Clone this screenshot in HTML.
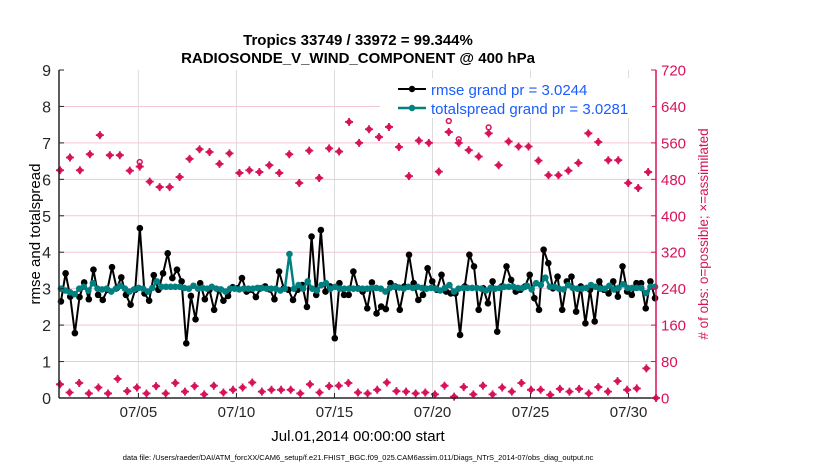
<!DOCTYPE html>
<html><head><meta charset="utf-8"><style>
body{margin:0;background:#fff;}
svg{display:block;font-family:"Liberation Sans",Arial,sans-serif;}
</style></head><body>
<svg id="chart" width="830" height="470" viewBox="0 0 830 470">
<text x="358" y="45" text-anchor="middle" font-size="15" font-weight="bold">Tropics 33749 / 33972 = 99.344%</text>
<text x="358" y="63" text-anchor="middle" font-size="15" font-weight="bold">RADIOSONDE_V_WIND_COMPONENT @ 400 hPa</text>
<g id="grid"></g>
<g id="marks"></g>
<g id="axes"></g>
<text transform="translate(40,234) rotate(-90)" text-anchor="middle" font-size="15">rmse and totalspread</text>
<text transform="translate(708,234) rotate(-90)" text-anchor="middle" font-size="13.5" fill="#d6135a"># of obs: o=possible; ×=assimilated</text>
<text x="358" y="441" text-anchor="middle" font-size="15">Jul.01,2014 00:00:00 start</text>
<text x="358" y="460" text-anchor="middle" font-size="7.5">data file: /Users/raeder/DAI/ATM_forcXX/CAM6_setup/f.e21.FHIST_BGC.f09_025.CAM6assim.011/Diags_NTrS_2014-07/obs_diag_output.nc</text>
<g>
<rect x="380" y="78" width="272" height="40" fill="#fff"/>
<line x1="398" y1="89" x2="426" y2="89" stroke="#000" stroke-width="2"/><circle cx="412" cy="89" r="3.2" fill="#000"/>
<text x="431" y="95" font-size="15" fill="#1a5cff">rmse grand pr = 3.0244</text>
<line x1="398" y1="108" x2="426" y2="108" stroke="#008080" stroke-width="2.5"/><circle cx="412" cy="108" r="3.2" fill="#008080"/>
<text x="431" y="114" font-size="15" fill="#1a5cff">totalspread grand pr = 3.0281</text>
</g>
</svg>
<script>
const rmse=[2.65,3.42,2.78,1.78,2.77,3.17,2.71,3.52,2.83,2.69,2.97,3.59,3.01,3.31,2.83,2.56,2.97,4.66,2.87,2.67,3.37,2.97,3.42,3.97,3.29,3.52,3.2,1.5,2.8,2.16,3.15,2.71,2.97,2.42,2.97,2.67,2.8,3.04,3.01,3.29,2.92,2.97,2.77,3.01,3.06,2.98,2.71,3.47,3.01,2.97,2.69,2.97,3.1,2.5,4.43,2.83,4.61,2.92,3.06,1.64,3.15,2.83,2.83,3.47,3.01,2.92,2.46,3.17,2.32,
2.51,2.44,3.15,3.06,2.42,3.06,3.93,3.15,2.69,2.83,3.56,3.2,2.97,3.38,2.92,2.87,2.87,1.73,3.06,3.93,3.61,2.42,3.01,2.6,3.2,1.82,3.06,3.61,3.24,2.92,2.97,3.06,3.38,2.74,2.42,4.07,3.7,3.01,3.33,2.42,3.2,3.33,2.37,3.06,2.05,2.97,2.1,3.2,2.97,2.87,3.2,2.78,3.61,2.92,2.83,3.15,3.15,2.46,3.2,2.74];
const spread=[3.0,2.95,2.9,2.85,3.0,3.05,2.95,3.15,3.0,2.98,3.0,2.92,3.0,3.08,3.0,2.92,2.98,3.02,3.0,2.92,3.02,3.2,3.05,3.05,3.05,3.05,3.05,3.02,3.0,3.08,3.0,3.02,3.0,3.05,3.0,2.98,2.92,3.0,3.0,2.98,3.0,3.0,3.0,3.02,3.02,3.0,3.0,3.0,2.95,3.0,3.95,3.0,3.1,3.0,3.2,3.0,2.95,3.1,3.15,3.0,3.05,3.0,3.0,3.0,3.0,3.0,3.0,3.0,3.02,
3.02,3.0,2.92,3.02,3.05,3.03,3.0,3.05,3.02,3.05,3.02,3.0,3.02,3.0,2.95,3.02,3.1,2.92,3.0,3.02,3.02,3.02,3.02,3.0,2.95,3.02,3.0,3.02,3.05,3.05,3.05,3.02,3.02,3.08,2.98,3.15,3.1,3.3,3.05,3.05,3.0,2.98,3.1,3.02,3.0,3.0,3.02,3.1,3.05,3.0,3.0,3.08,2.98,3.02,3.12,3.02,3.02,3.02,3.02,2.88,3.05,3.05];
const obsAssim=[500,528,500,535,577,533,533,499,508,475,463,463,485,525,546,540,514,537,494,500,496,511,494,535,472,543,483,548,541,606,560,590,573,595,551,487,565,560,497,584,560,544,530,581,511,563,552,552,521,489,489,499,516,581,562,522,522,472,461,496];
const obsPossible=[500,528,500,535,577,533,533,499,518,475,463,463,485,525,546,540,514,537,494,500,496,511,494,535,472,543,483,548,541,606,560,590,573,595,551,487,565,560,497,608,568,544,530,594,511,563,552,552,521,489,489,499,516,581,562,522,522,472,461,496];
const obsLow=[30,12,33,10,23,10,42,15,23,10,26,10,33,14,26,8,27,12,18,23,34,14,18,18,18,10,30,12,26,27,33,12,10,18,34,15,14,10,12,8,27,3,24,8,27,8,23,14,33,18,18,7,20,14,20,10,24,14,37,18,21,65,0];
const xTicks=[4,9,14,19,24,29];
const xTickLabels=["07/05","07/10","07/15","07/20","07/25","07/30"];
const yLeftTicks=[0,1,2,3,4,5,6,7,8,9];
const yRightTicks=[0,80,160,240,320,400,480,560,640,720];

const X0=59,X1=656,Y0=398,Y1=70,T0=-0.05,T1=30.4;
const xs=t=>X0+(t-T0)/(T1-T0)*(X1-X0);
const yl=v=>Y0-v/9*(Y0-Y1);
const yr=v=>Y0-v/720*(Y0-Y1);
const NS="http://www.w3.org/2000/svg";
function mk(tag,attrs,parent){const e=document.createElementNS(NS,tag);for(const k in attrs)e.setAttribute(k,attrs[k]);parent.appendChild(e);return e;}
const grid=document.getElementById('grid'),marks=document.getElementById('marks'),axes=document.getElementById('axes');
xTicks.forEach(t=>{const l=mk('line',{x1:xs(t),x2:xs(t),y1:Y1,y2:Y0,stroke:'#dcdcdc','stroke-width':1},grid);

});
yLeftTicks.forEach(v=>{if(v===0||v===9)return;const l=mk('line',{x1:X0,x2:X1,y1:yl(v),y2:yl(v),stroke:'#f3c6d8','stroke-width':1},grid);

});
function star(x,y,g){mk('circle',{cx:x,cy:y,r:2.8,fill:'#d6135a'},g);mk('path',{d:`M${x-4} ${y}h8M${x} ${y-4}v8`,stroke:'#d6135a','stroke-width':1.8},g);}
const gObs=mk('g',{},marks);


const topStep=30.0/(obsAssim.length-1);
obsAssim.forEach((v,i)=>{const x=xs(i*topStep);star(x,yr(v),gObs);
if(obsPossible[i]!==v){mk('circle',{cx:x,cy:yr(obsPossible[i]),r:2.4,fill:'none',stroke:'#d6135a','stroke-width':1.5},gObs);}});
const lowStep=30.4/(obsLow.length-1);
obsLow.forEach((v,i)=>{star(xs(i*lowStep),yr(v),gObs);});
const n=rmse.length;const tt=i=>0.05+i*30.3/(n-1);
const gR=mk('g',{},marks);


mk('polyline',{points:rmse.map((v,i)=>xs(tt(i))+','+yl(v)).join(' '),fill:'none',stroke:'#000','stroke-width':2},gR);
rmse.forEach((v,i)=>mk('circle',{cx:xs(tt(i)),cy:yl(v),r:3.3,fill:'#000'},gR));
const m=spread.length;const ts=i=>0.05+i*30.3/(m-1);
const gS=mk('g',{},marks);


mk('polyline',{points:spread.map((v,i)=>xs(ts(i))+','+yl(v)).join(' '),fill:'none',stroke:'#008080','stroke-width':2.5},gS);
spread.forEach((v,i)=>mk('circle',{cx:xs(ts(i)),cy:yl(v),r:3.3,fill:'#008080'},gS));
mk('line',{x1:X0,x2:X0,y1:Y1,y2:Y0,stroke:'#262626','stroke-width':1.5},axes);
mk('line',{x1:X0,x2:X1,y1:Y0,y2:Y0,stroke:'#262626','stroke-width':1.5},axes);
mk('line',{x1:X1,x2:X1,y1:Y1,y2:Y0,stroke:'#d6135a','stroke-width':1.5},axes);
yLeftTicks.forEach(v=>{mk('line',{x1:X0,x2:X0+5,y1:yl(v),y2:yl(v),stroke:'#262626'},axes);
const t=mk('text',{x:X0-8,y:yl(v)+6,'text-anchor':'end','font-size':16,fill:'#262626'},axes);t.textContent=v;

});
yRightTicks.forEach(v=>{mk('line',{x1:X1-5,x2:X1,y1:yr(v),y2:yr(v),stroke:'#d6135a'},axes);
const t=mk('text',{x:X1+5,y:yr(v)+5.5,'font-size':15,fill:'#d6135a'},axes);t.textContent=v;

});
xTicks.forEach((tk,i)=>{mk('line',{x1:xs(tk),x2:xs(tk),y1:Y0,y2:Y0-5,stroke:'#262626'},axes);
const t=mk('text',{x:xs(tk),y:Y0+19,'text-anchor':'middle','font-size':15,fill:'#262626'},axes);t.textContent=xTickLabels[i];

});
</script>
</body></html>
